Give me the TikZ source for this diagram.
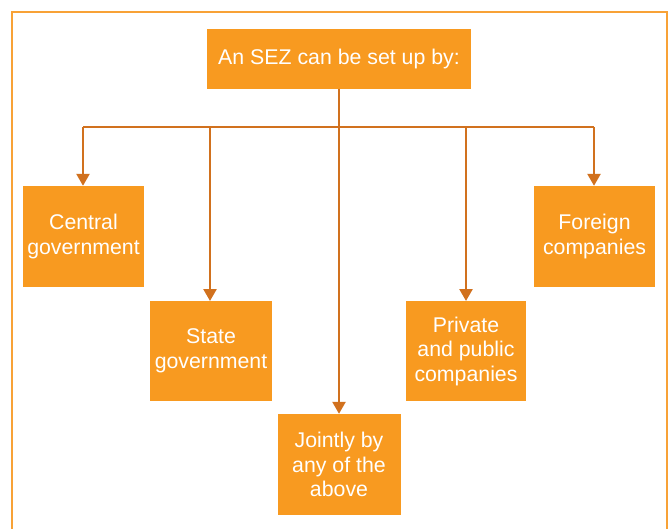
\documentclass[tikz,border=0pt]{standalone}
\usepackage{fontspec}
\setmainfont{Liberation Sans}
\usetikzlibrary{arrows.meta}
\definecolor{boxorange}{HTML}{F89A20}
\definecolor{lineorange}{HTML}{D1711E}
\definecolor{frameorange}{HTML}{F8A236}
\tikzset{
  box/.style={fill=boxorange, text=white, align=center, inner sep=0pt,
    font=\fontsize{21.3}{24.5}\selectfont},
  conn/.style={draw=lineorange, line width=2.5pt},
  arr/.style={conn, -{Triangle[width=13pt,length=12pt]}}
}
\begin{document}
\begin{tikzpicture}[x=1pt,y=-1pt]
\useasboundingbox (0,0) rectangle (671,529);
\clip (0,0) rectangle (671,529);
\fill[white] (0,0) rectangle (671,529);
\draw[frameorange, line width=2pt] (12,545) -- (12,12) -- (667,12) -- (667,545);
\node[box, minimum width=264pt, minimum height=60pt] (top) at (339,59) {An SEZ can be set up by:};
\node[box, minimum width=121pt, minimum height=101pt] (central) at (83.5,236.5) {Central\\government};
\node[box, minimum width=122pt, minimum height=100pt] (state) at (211,351) {State\\government};
\node[box, minimum width=123pt, minimum height=101pt] (joint) at (339,464.5) {Jointly by\\any of the\\above};
\node[box, minimum width=120pt, minimum height=100pt] (private) at (466,351) {Private\\and public\\companies};
\node[box, minimum width=121pt, minimum height=101pt] (foreign) at (594.5,236.5) {Foreign\\companies};
\coordinate (hl) at (83,127);
\coordinate (hr) at (594,127);
\draw[conn] (hl) -- (hr);
\draw[arr] (top.south) -- (joint.north);
\draw[arr] (hl) -- (hl |- central.north);
\draw[arr] (210,127) -- (210,301);
\draw[arr] (466,127) -- (466,301);
\draw[arr] (hr) -- (hr |- foreign.north);
\end{tikzpicture}
\end{document}
